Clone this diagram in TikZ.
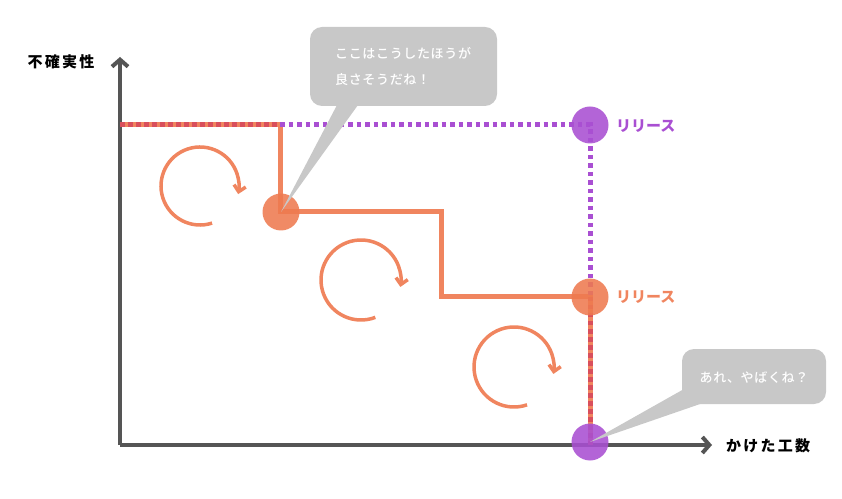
\documentclass[tikz,border=0pt]{standalone}
\usepackage{fontspec}
\usetikzlibrary{arrows.meta}
\newfontfamily\jp{Noto Sans CJK JP}
\newfontfamily\jpsp[LetterSpace=15]{Noto Sans CJK JP}
\newfontfamily\jpbub[LetterSpace=5]{Noto Sans CJK JP Medium}
\definecolor{orng}{HTML}{F0855F}
\definecolor{orngc}{HTML}{EE7A50}
\definecolor{purp}{HTML}{A94FD2}
\definecolor{redd}{HTML}{D94F5C}
\definecolor{bub}{HTML}{C8C8C8}
\definecolor{axisc}{HTML}{555555}
\tikzset{
  axisline/.style={draw=axisc, line width=4pt, -{Straight Barb[length=7pt,width=16pt,line width=4pt]}},
  orline/.style={draw=orng, line width=5pt},
  pdots/.style={draw=purp, line width=5pt, dash pattern=on 4.5pt off 4pt},
  rdots/.style={draw=redd, line width=5pt, dash pattern=on 4.5pt off 3.5pt},
  ocirc/.style={circle, fill=orngc, fill opacity=0.88, minimum size=37pt, inner sep=0pt},
  pcirc/.style={circle, fill=purp, fill opacity=0.88, minimum size=37pt, inner sep=0pt},
  cycarrow/.style={draw=orng, line width=3.5pt, -{Straight Barb[length=6pt,width=12pt,line width=3.5pt]}},
  bubble/.style={fill=bub, rounded corners=12pt},
  bubtext/.style={text=white, font=\jpbub\fontsize{13}{16}\selectfont, inner sep=0pt},
  axlabel/.style={font=\jpsp\bfseries\fontsize{15}{18}\selectfont, text=black, inner sep=0pt},
  rellabel/.style={font=\jp\bfseries\fontsize{15}{18}\selectfont, inner sep=0pt, anchor=west}
}
\begin{document}
\begin{tikzpicture}[x=1pt,y=1pt]
\useasboundingbox (0,0) rectangle (842,498);
% coordinates
\coordinate (O) at (120,53);
\coordinate (ytop) at (120,441);
\coordinate (xend) at (712,53);
\coordinate (s0) at (120,373);
\coordinate (s1) at (280,373);
\coordinate (s2) at (280,286);
\coordinate (s3) at (441,286);
\coordinate (s4) at (441,201);
\coordinate (s5) at (590,201);
\coordinate (s6) at (590,53);
\coordinate (p1) at (590,373);
\coordinate (p2) at (590,56);
% axes
\draw[axisline] (O) -- (ytop);
\draw[axisline] (O) -- (xend);
% orange path
\draw[orline] (s0) -- (s1) -- (s2) -- (s3) -- (s4) -- (s5) -- (s6);
% purple dotted path
\draw[pdots] (s1) -- (p1) -- (s5);
\draw[rdots] (s0) -- (s1);
\draw[rdots] (s5) -- (s6);
% circular arrows
\coordinate (a1) at (200,312);
\coordinate (a2) at (361,218);
\coordinate (a3) at (514,131);
\draw[cycarrow] ([shift={(288:39)}]a1) arc[start angle=288, end angle=-12, radius=39];
\draw[cycarrow] ([shift={(291:40)}]a2) arc[start angle=291, end angle=-10, radius=40];
\draw[cycarrow] ([shift={(289:40)}]a3) arc[start angle=289, end angle=-10, radius=40];
% circles
\node[ocirc] (c1) at (281,286) {};
\node[ocirc] (c2) at (590,201) {};
\node[pcirc] (c3) at (p1) {};
\node[pcirc] (c4) at (p2) {};
% labels
\node[rellabel, text=purp] (l1) at (616,372) {リリース};
\node[rellabel, text=orng] (l2) at (616,201) {リリース};
\node[axlabel] (ylab) at (61,436) {不確実性};
\node[axlabel] (xlab) at (768,52) {かけた工数};
% bubble 1
\coordinate (t1a) at (337,393);
\coordinate (t1b) at (358,393);
\fill[bub] (t1a) -- (c1.center) -- (t1b) -- cycle;
\path[bubble] (310,471) rectangle (497,392);
\node[bubtext, anchor=west] (b1l1) at (335,445) {ここはこうしたほうが};
\node[bubtext, anchor=west] (b1l2) at (335,418) {良さそうだね！};
% bubble 2
\coordinate (t2a) at (684,109);
\coordinate (t2b) at (703,95);
\fill[bub] (t2a) -- (c4.center) -- (t2b) -- cycle;
\path[bubble] (682,149) rectangle (826,94);
\node[bubtext] (b2) at (754,120) {あれ、やばくね？};
\end{tikzpicture}
\end{document}
